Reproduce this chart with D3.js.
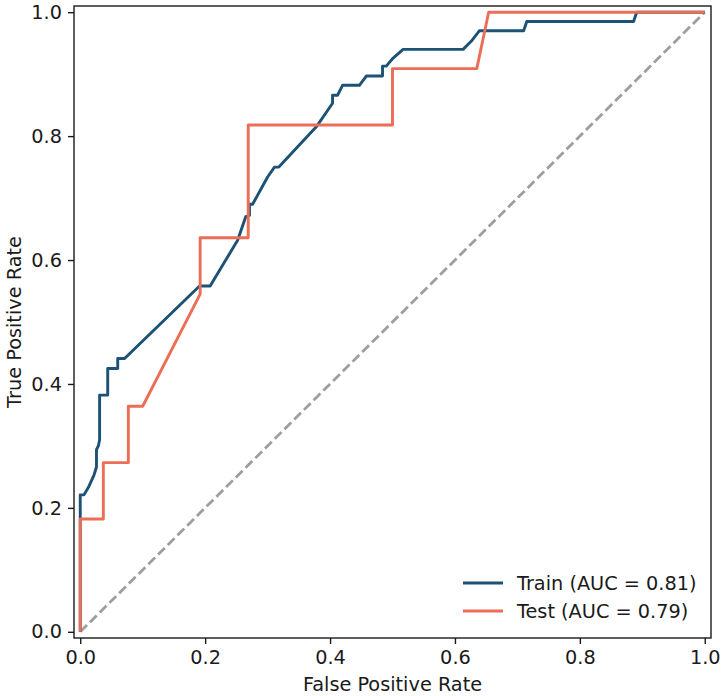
<!DOCTYPE html>
<html>
<head>
<meta charset="utf-8">
<script src="https://cdn.jsdelivr.net/npm/d3@7"></script>
<style>
  html, body { margin: 0; padding: 0; background: #fff; }
  svg { display: block; }
  text { font-family: "DejaVu Sans", sans-serif; }
</style>
</head>
<body>
<script>
// ---- Data ----
const trainFPR = [0, 0, 0.006, 0.014, 0.022, 0.026, 0.026, 0.029, 0.031, 0.031, 0.044, 0.044, 0.060, 0.060, 0.071,
  0.191, 0.208, 0.252, 0.265, 0.271, 0.271, 0.276, 0.300, 0.311, 0.318, 0.378, 0.404, 0.404, 0.412, 0.420, 0.447,
  0.458, 0.484, 0.484, 0.490, 0.501, 0.517, 0.613, 0.626, 0.639, 0.710, 0.715, 0.886, 0.891, 1.0];
const trainTPR = [0, 0.221, 0.221, 0.235, 0.253, 0.266, 0.294, 0.300, 0.310, 0.382, 0.382, 0.425, 0.425, 0.441, 0.441,
  0.558, 0.558, 0.632, 0.670, 0.672, 0.690, 0.690, 0.734, 0.750, 0.750, 0.815, 0.853, 0.866, 0.866, 0.882, 0.882,
  0.897, 0.897, 0.913, 0.913, 0.926, 0.940, 0.940, 0.953, 0.970, 0.970, 0.985, 0.985, 1.0, 1.0];
const testFPR = [0, 0, 0.037, 0.037, 0.077, 0.077, 0.100, 0.192, 0.192, 0.269, 0.269, 0.500, 0.500, 0.635, 0.654, 1.0];
const testTPR = [0, 0.182, 0.182, 0.273, 0.273, 0.364, 0.364, 0.545, 0.636, 0.636, 0.818, 0.818, 0.909, 0.909, 1.0, 1.0];
const chanceFPR = [0, 1];
const chanceTPR = [0, 1];
const tickValues = [0.0, 0.2, 0.4, 0.6, 0.8, 1.0];
const seriesNames = ["Train (AUC = 0.81)", "Test (AUC = 0.79)"];
const seriesColors = ["#1b5275", "#ec6e56"];

// ---- Layout ----
const W = 726, H = 696;
const plot = { left: 74, right: 711, top: 6, bottom: 638 };
const fontSize = "19.3px";

const svg = d3.select("body").append("svg").attr("width", W).attr("height", H);

const x = d3.scaleLinear().domain([-0.01, 1.01]).range([plot.left, plot.right]);
const y = d3.scaleLinear().domain([-0.01, 1.01]).range([plot.bottom, plot.top]);

const line = d3.line().x(d => x(d[0])).y(d => y(d[1]));
const zip = (a, b) => a.map((v, i) => [v, b[i]]);

// chance diagonal
svg.append("path")
  .datum(zip(chanceFPR, chanceTPR))
  .attr("d", line)
  .attr("fill", "none")
  .attr("stroke", "#9e9e9e")
  .attr("stroke-width", 2.8)
  .attr("stroke-dasharray", "9.5,4.2");

// train
svg.append("path")
  .datum(zip(trainFPR, trainTPR))
  .attr("d", line)
  .attr("fill", "none")
  .attr("stroke", seriesColors[0])
  .attr("stroke-width", 2.9)
  .attr("stroke-linejoin", "round");

// test
svg.append("path")
  .datum(zip(testFPR, testTPR))
  .attr("d", line)
  .attr("fill", "none")
  .attr("stroke", seriesColors[1])
  .attr("stroke-width", 2.9)
  .attr("stroke-linejoin", "round");

// frame
svg.append("rect")
  .attr("x", plot.left).attr("y", plot.top)
  .attr("width", plot.right - plot.left).attr("height", plot.bottom - plot.top)
  .attr("fill", "none").attr("stroke", "#1a1a1a").attr("stroke-width", 1.4);

// axes
const fmt = d3.format(".1f");
const xAxis = svg.append("g")
  .attr("transform", `translate(0,${plot.bottom})`)
  .call(d3.axisBottom(x).tickValues(tickValues).tickFormat(fmt).tickSize(6).tickPadding(6));
const yAxis = svg.append("g")
  .attr("transform", `translate(${plot.left},0)`)
  .call(d3.axisLeft(y).tickValues(tickValues).tickFormat(fmt).tickSize(6).tickPadding(6));
[xAxis, yAxis].forEach(g => {
  g.select(".domain").remove();
  g.selectAll(".tick line").attr("stroke", "#1a1a1a").attr("stroke-width", 1.4);
  g.selectAll(".tick text").attr("fill", "#1a1a1a").style("font-size", fontSize)
    .style("font-family", '"DejaVu Sans", sans-serif');
});

// axis labels
svg.append("text")
  .attr("x", (plot.left + plot.right) / 2).attr("y", 691)
  .attr("text-anchor", "middle").attr("fill", "#1a1a1a")
  .style("font-size", fontSize)
  .text("False Positive Rate");
svg.append("text")
  .attr("transform", `translate(21,${(plot.top + plot.bottom) / 2}) rotate(-90)`)
  .attr("text-anchor", "middle").attr("fill", "#1a1a1a")
  .style("font-size", fontSize)
  .text("True Positive Rate");

// legend
const legend = svg.append("g");
seriesNames.forEach((name, i) => {
  const ly = 583 + i * 28;
  legend.append("line")
    .attr("x1", 463).attr("x2", 503).attr("y1", ly).attr("y2", ly)
    .attr("stroke", seriesColors[i]).attr("stroke-width", 2.9);
  legend.append("text")
    .attr("x", 517).attr("y", ly).attr("dy", "0.35em")
    .attr("fill", "#1a1a1a").style("font-size", fontSize)
    .text(name);
});
</script>
</body>
</html>
